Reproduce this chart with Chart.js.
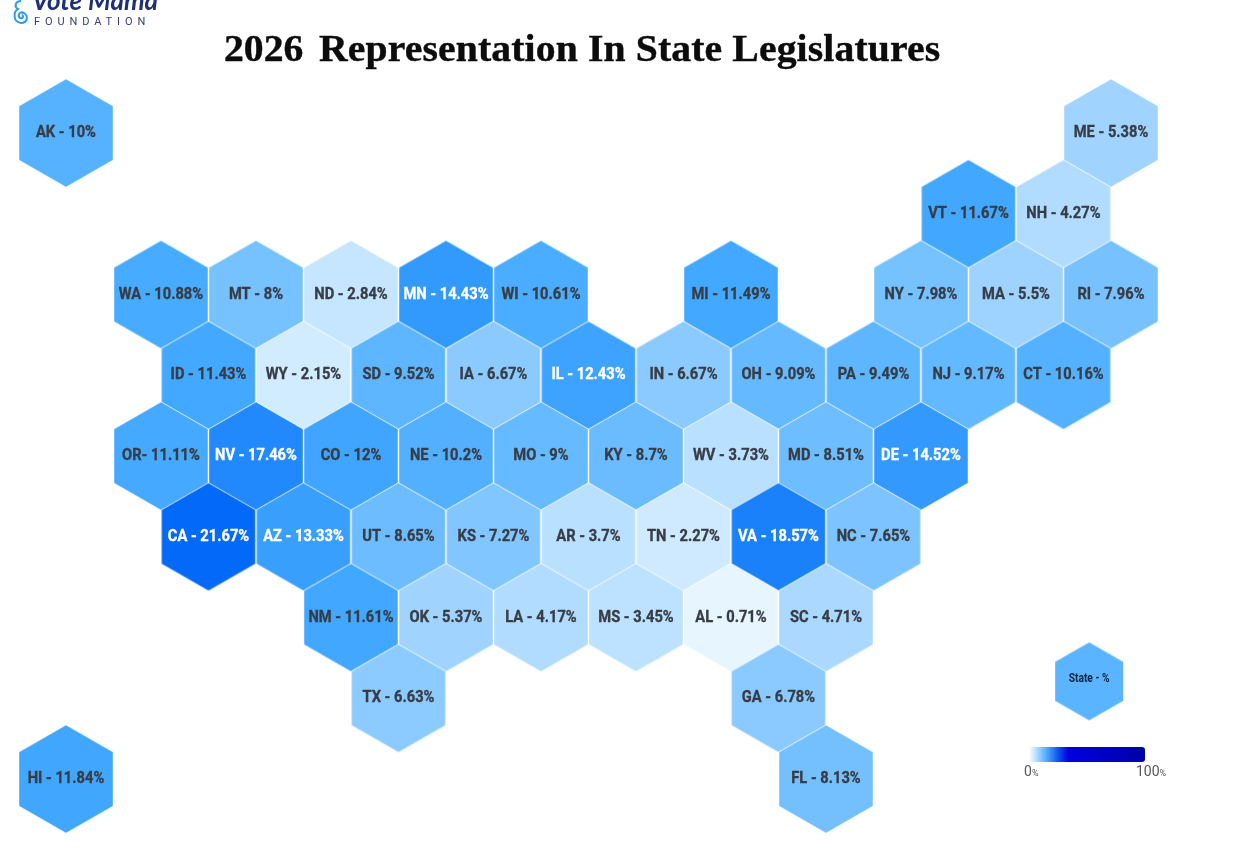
<!DOCTYPE html>
<html>
<head>
<meta charset="utf-8">
<title>2026 Representation In State Legislatures</title>
<script src="https://cdn.jsdelivr.net/npm/chart.js@4"></script>
<style>
  html, body { margin: 0; padding: 0; background: #fff; overflow: hidden; }
  #wrap { position: relative; width: 1254px; height: 848px; overflow: hidden; }
  #mapa { display: block; }
  #title { position: absolute; left: 224px; top: 26px; margin: 0; white-space: pre; transform-origin: left top; transform: scaleX(1.044);
           font: 700 38px "Liberation Serif", serif; color: #0c0c0c; -webkit-text-stroke: .4px #0c0c0c; }
  #title span { margin-left: -4px; letter-spacing: .12px; }
  #logo1 { position: absolute; left: 32px; top: -16px; font: italic 700 26px Lato, sans-serif; color: #1d2f78; white-space: nowrap; }
  #logo2 { position: absolute; left: 34px; top: 15px; font: 400 11px Roboto, sans-serif; letter-spacing: 4.9px; color: #33407d; white-space: nowrap; }
  #swirl { position: absolute; left: 12px; top: -2px; }
  #bar { position: absolute; left: 1029px; top: 747px; width: 116px; height: 15px; border-radius: 0 3px 3px 0;
         background: linear-gradient(90deg, #ffffff 0%, #5ab4ff 14%, #1060f0 24%, #0000e0 34%, #0000a8 100%); }
  .tick { position: absolute; top: 763px; font: 400 14px Roboto, sans-serif; color: #555; }
  .tick small { font-size: 9px; }
</style>
</head>
<body>
<div id="wrap">
  <canvas id="mapa" width="1254" height="848"></canvas>
  <svg id="swirl" width="18" height="28" viewBox="0 0 18 28" fill="none" stroke="#2f9be8" stroke-width="2">
    <path d="M9 3 C3 3 2 9 6 11 C1 14 1 24 9 25 C15 25 17 18 12 15 C8 13 5 17 8 20 C11 21 12 18 10 17"/>
  </svg>
  <div id="logo1">Vote Mama</div>
  <div id="logo2">FOUNDATION</div>
  <h1 id="title">2026  <span>Representation In State Legislatures</span></h1>
  <div id="bar"></div>
  <div class="tick" style="left:1024px">0<small>%</small></div>
  <div class="tick" style="left:1136px">100<small>%</small></div>
</div>
<script>
const stateLabels = [
  'AK - 10%', 'ME - 5.38%',
  'VT - 11.67%', 'NH - 4.27%',
  'WA - 10.88%', 'MT - 8%', 'ND - 2.84%', 'MN - 14.43%', 'WI - 10.61%', 'MI - 11.49%', 'NY - 7.98%', 'MA - 5.5%', 'RI - 7.96%',
  'ID - 11.43%', 'WY - 2.15%', 'SD - 9.52%', 'IA - 6.67%', 'IL - 12.43%', 'IN - 6.67%', 'OH - 9.09%', 'PA - 9.49%', 'NJ - 9.17%', 'CT - 10.16%',
  'OR- 11.11%', 'NV - 17.46%', 'CO - 12%', 'NE - 10.2%', 'MO - 9%', 'KY - 8.7%', 'WV - 3.73%', 'MD - 8.51%', 'DE - 14.52%',
  'CA - 21.67%', 'AZ - 13.33%', 'UT - 8.65%', 'KS - 7.27%', 'AR - 3.7%', 'TN - 2.27%', 'VA - 18.57%', 'NC - 7.65%',
  'NM - 11.61%', 'OK - 5.37%', 'LA - 4.17%', 'MS - 3.45%', 'AL - 0.71%', 'SC - 4.71%',
  'TX - 6.63%', 'GA - 6.78%',
  'HI - 11.84%', 'FL - 8.13%'
]
const statePct = [
  10, 5.38,
  11.67, 4.27,
  10.88, 8, 2.84, 14.43, 10.61, 11.49, 7.98, 5.5, 7.96,
  11.43, 2.15, 9.52, 6.67, 12.43, 6.67, 9.09, 9.49, 9.17, 10.16,
  11.11, 17.46, 12, 10.2, 9, 8.7, 3.73, 8.51, 14.52,
  21.67, 13.33, 8.65, 7.27, 3.7, 2.27, 18.57, 7.65,
  11.61, 5.37, 4.17, 3.45, 0.71, 4.71,
  6.63, 6.78,
  11.84, 8.13
]
const stateCols = [
  0, 22,
  19, 21,
  2, 4, 6, 8, 10, 14, 18, 20, 22,
  3, 5, 7, 9, 11, 13, 15, 17, 19, 21,
  2, 4, 6, 8, 10, 12, 14, 16, 18,
  3, 5, 7, 9, 11, 13, 15, 17,
  6, 8, 10, 12, 14, 16,
  7, 15,
  0, 16
]
const stateRows = [
  0, 0,
  1, 1,
  2, 2, 2, 2, 2, 2, 2, 2, 2,
  3, 3, 3, 3, 3, 3, 3, 3, 3, 3,
  4, 4, 4, 4, 4, 4, 4, 4, 4,
  5, 5, 5, 5, 5, 5, 5, 5,
  6, 6, 6, 6, 6, 6,
  7, 7,
  8, 8
]
const legendLabels = ['State - %']
const legendCols = [21.54]
const legendRows = [6.79]

// colour stops: [percent, r, g, b]
const colorStops = [
  [0, 242, 250, 255], [3, 196, 229, 255], [6, 150, 207, 255], [9, 102, 186, 255],
  [11, 69, 170, 255], [14, 54, 156, 253], [18, 30, 134, 251], [22, 0, 102, 248]
]

function colorFor(pct) {
  for (let i = 1; i < colorStops.length; i++) {
    const a = colorStops[i - 1], b = colorStops[i]
    if (pct <= b[0]) {
      const t = (pct - a[0]) / (b[0] - a[0])
      return `rgb(${[1, 2, 3].map(k => Math.round(a[k] + (b[k] - a[k]) * t)).join(',')})`
    }
  }
  return 'rgb(0,102,248)'
}

function hexagon(color, halfW, halfH, edge) {
  const c = document.createElement('canvas')
  c.width = halfW * 2 + 2
  c.height = halfH * 2 + 2
  const ctx = c.getContext('2d')
  const cx = c.width / 2, cy = c.height / 2
  ctx.beginPath()
  ctx.moveTo(cx, cy - halfH)
  ctx.lineTo(cx + halfW, cy - halfH / 2)
  ctx.lineTo(cx + halfW, cy + halfH / 2)
  ctx.lineTo(cx, cy + halfH)
  ctx.lineTo(cx - halfW, cy + halfH / 2)
  ctx.lineTo(cx - halfW, cy - halfH / 2)
  ctx.closePath()
  ctx.fillStyle = color
  ctx.fill()
  if (edge) {
    ctx.strokeStyle = edge
    ctx.lineWidth = 1
    ctx.stroke()
  }
  return c
}

const hexLabels = {
  id: 'hexLabels',
  afterDatasetsDraw(chart) {
    const ctx = chart.ctx
    ctx.save()
    ctx.textAlign = 'center'
    ctx.textBaseline = 'middle'
    ctx.lineWidth = 0.35
    chart.getDatasetMeta(0).data.forEach((pt, i) => {
      ctx.save()
      ctx.translate(pt.x, pt.y)
      ctx.scale(0.89, 1)
      ctx.font = '700 16.5px Roboto'
      ctx.fillStyle = ctx.strokeStyle = statePct[i] > 12 ? '#ffffff' : '#383d45'
      ctx.fillText(stateLabels[i], 0, 0)
      ctx.strokeText(stateLabels[i], 0, 0)
      ctx.restore()
    })
    chart.getDatasetMeta(1).data.forEach((pt, i) => {
      ctx.save()
      ctx.translate(pt.x, pt.y - 2)
      ctx.scale(0.82, 1)
      ctx.font = '700 12.5px Roboto'
      ctx.fillStyle = '#0d2440'
      ctx.fillText(legendLabels[i], 0, 0)
      ctx.restore()
    })
    ctx.restore()
  }
}

new Chart(document.getElementById('mapa'), {
  type: 'scatter',
  data: {
    datasets: [{
      label: 'Representation',
      data: stateLabels.map((s, i) => ({ x: stateCols[i], y: stateRows[i] })),
      pointStyle: statePct.map(p => hexagon(colorFor(p), 47, 54, 'rgba(255,255,255,.45)')),
      pointRadius: 48
    }, {
      label: 'Legend',
      data: legendLabels.map((s, i) => ({ x: legendCols[i], y: legendRows[i] })),
      pointStyle: hexagon('#5ab4ff', 34, 39),
      pointRadius: 35
    }]
  },
  options: {
    responsive: false,
    animation: false,
    events: [],
    layout: { padding: 0, autoPadding: false },
    plugins: { legend: { display: false }, title: { display: false }, tooltip: { enabled: false } },
    scales: {
      x: { type: 'linear', display: false, min: -1.389, max: 25.011 },
      y: { type: 'linear', display: false, reverse: true, min: -1.647, max: 8.854 }
    }
  },
  plugins: [hexLabels]
})
</script>
</body>
</html>
